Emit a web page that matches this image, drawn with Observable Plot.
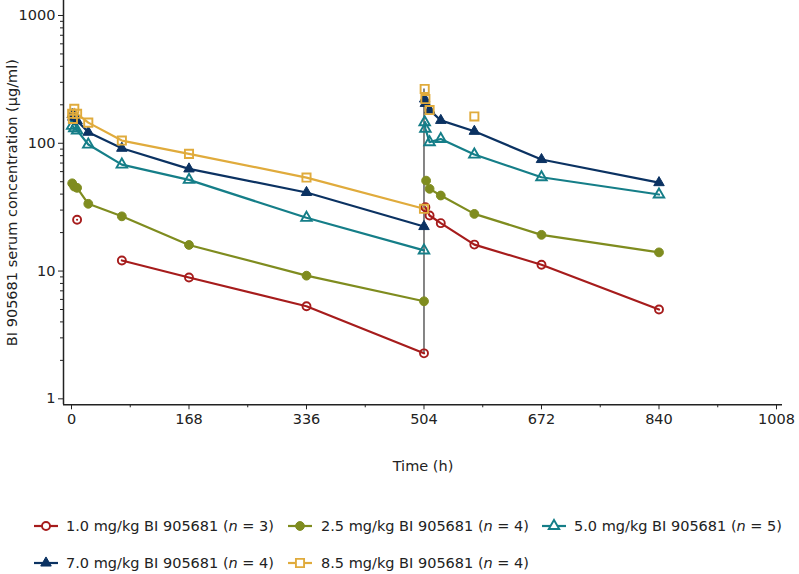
<!DOCTYPE html>
<html><head><meta charset="utf-8">
<script src="https://cdn.jsdelivr.net/npm/d3@7"></script>
<script src="https://cdn.jsdelivr.net/npm/@observablehq/plot@0.6"></script>
<style>
body{margin:0;background:#fff;font-family:"DejaVu Sans",sans-serif;}
#chart{width:799px;height:574px;position:relative;overflow:hidden;}
svg{display:block;}
</style></head><body><div id="chart"></div>
<script>
// ---- data ----
const groupLabels = ["1.0 mg/kg BI 905681", "2.5 mg/kg BI 905681", "5.0 mg/kg BI 905681", "7.0 mg/kg BI 905681", "8.5 mg/kg BI 905681"];
const groupN = [3, 4, 5, 4, 4];
const groupColors = ["#a61c1c", "#7f8c1f", "#157e88", "#0b3262", "#e0ab3c"];
const groupSymbols = ["circle", "circle", "triangle", "triangle", "square"];
const groupFilled = [false, true, false, true, false];

// first dose (h)
const timesRed1 = [8, 24, 72, 168, 336, 504];
const concRed1 = [25.2, null, 12.1, 8.9, 5.3, 2.27];
const timesOlive1 = [1, 4, 8, 24, 72, 168, 336, 504];
const concOlive1 = [48.6, 45.8, 44.8, 33.6, 26.8, 16.0, 9.2, 5.8];
const timesTeal1 = [1, 4, 8, 24, 72, 168, 336, 504];
const concTeal1 = [137, 131, 126, 97.7, 68.1, 51.7, 26.1, 14.5];
const timesNavy1 = [1, 2, 4, 8, 24, 72, 168, 336, 504];
const concNavy1 = [168, 160, 165, 150, 122, 91.4, 63, 41.2, 22.3];
const timesYellow1 = [1, 2, 4, 8, 24, 72, 168, 336, 504];
const concYellow1 = [170, 155, 186, 170, 145, 105, 82.6, 53.9, 30.7];

// second dose (h)
const timesRed2 = [506, 512, 528, 576, 672, 840];
const concRed2 = [31.6, 27.2, 23.7, 16.1, 11.2, 5.0];
const timesOlive2 = [507, 512, 528, 576, 672, 840];
const concOlive2 = [51, 44, 39, 28, 19.2, 14.0];
const timesTeal2 = [505, 506, 512, 528, 576, 672, 840];
const concTeal2 = [146, 130, 102, 108, 81.6, 54.2, 39.7];
const timesNavy2 = [505, 506, 512, 528, 576, 672, 840];
const concNavy2 = [222, 205, 182, 151, 124, 74.6, 49.2];
const timesYellow2 = [505, 506, 512, 576];
const concYellow2 = [266, 222, 182, 162];
const linkedDose2 = [true, true, true, true, false];

const doseTime = 504;
const xTicks = [0, 168, 336, 504, 672, 840, 1008];
const xMinorTicks = [84, 252, 420, 588, 756, 924];
const yTicks = [1, 10, 100, 1000];
const yMinorTicks = [2,3,4,5,6,7,8,9,20,30,40,50,60,70,80,90,200,300,400,500,600,700,800,900];
const xTitle = "Time (h)";
const yTitle = "BI 905681 serum concentration (µg/ml)";

// ---- build rows ----
const series = [
  [timesRed1, concRed1, timesRed2, concRed2],
  [timesOlive1, concOlive1, timesOlive2, concOlive2],
  [timesTeal1, concTeal1, timesTeal2, concTeal2],
  [timesNavy1, concNavy1, timesNavy2, concNavy2],
  [timesYellow1, concYellow1, timesYellow2, concYellow2]
];
const toRows = (ts, cs) => ts.map((t, k) => ({t, c: cs[k]}));

const xDomain = [-11.44, 1016.6];
const yDomain = [0.898, 1310];

const marks = [
  Plot.axisX({ticks: xTicks, tickSize: 5, tickPadding: 4, tickFormat: d => String(d), label: null, stroke: "#222", fill: "#222"}),
  Plot.axisX({ticks: xMinorTicks, tickSize: 3, fill: "none", label: null, stroke: "#222"}),
  Plot.axisY({ticks: yTicks, tickSize: 5, tickPadding: 3, tickFormat: d => String(d), label: null, stroke: "#222", fill: "#222"}),
  Plot.axisY({ticks: yMinorTicks, tickSize: 3, fill: "none", label: null, stroke: "#222"}),
  Plot.ruleY([yDomain[0]], {stroke: "#222", strokeWidth: 1.5}),
  Plot.ruleX([xDomain[0]], {stroke: "#222", strokeWidth: 1.5}),
  Plot.ruleX([doseTime], {
    y1: d3.min(series, s => s[1][s[1].length - 1]),
    y2: d3.max(series, s => s[3][0]),
    stroke: "#444", strokeWidth: 1.3
  }),
  Plot.text([xTitle], {frameAnchor: "bottom", textAnchor: "middle", lineAnchor: "middle", dy: 62, fontSize: 14.5, fill: "#222"}),
  Plot.text([yTitle], {frameAnchor: "left", textAnchor: "middle", lineAnchor: "middle", dx: -51, rotate: -90, fontSize: 14.5, fill: "#222"})
];

series.forEach((s, i) => {
  const color = groupColors[i];
  const r1 = toRows(s[0], s[1]);
  const r2 = toRows(s[2], s[3]);
  marks.push(Plot.line(r1, {x: "t", y: "c", stroke: color, strokeWidth: 2.2}));
  if (linkedDose2[i]) marks.push(Plot.line(r2, {x: "t", y: "c", stroke: color, strokeWidth: 2.2}));
});
series.forEach((s, i) => {
  const color = groupColors[i];
  const rows = toRows(s[0], s[1]).concat(toRows(s[2], s[3])).filter(d => d.c != null);
  const sym = groupSymbols[i];
  const r = sym === "circle" ? (groupFilled[i] ? 4.4 : 4) : sym === "square" ? 4.6 : 3.9;
  marks.push(Plot.dot(rows, {
    x: "t", y: "c", symbol: sym, r,
    stroke: color, strokeWidth: groupFilled[i] ? 1 : 1.9,
    fill: groupFilled[i] ? color : "white", fillOpacity: groupFilled[i] ? 1 : 0
  }));
});

const chart = Plot.plot({
  width: 799, height: 480,
  marginLeft: 63, marginRight: 17, marginTop: 0, marginBottom: 75.7,
  x: {domain: xDomain},
  y: {type: "log", domain: yDomain},
  style: {fontFamily: "DejaVu Sans", fontSize: "14.5px", color: "#222", background: "white", overflow: "visible"},
  marks
});
document.getElementById("chart").appendChild(chart);

// ---- legend ----
const colX = [46, 300, 554];
const textX = [66, 321, 574];
const rowY = [46, 83];
const leg = d3.select("#chart").append("svg").attr("width", 799).attr("height", 94)
  .style("font-family", "DejaVu Sans").style("font-size", "14.5px");
groupLabels.forEach((lab, i) => {
  const col = i % 3, row = Math.floor(i / 3);
  const g = leg.append("g").attr("transform", `translate(${colX[col]},${rowY[row]})`);
  const color = groupColors[i];
  g.append("line").attr("x1", -12).attr("x2", 12).attr("y1", 0).attr("y2", 0)
    .attr("stroke", color).attr("stroke-width", 2.2);
  const sym = groupSymbols[i];
  const r = sym === "circle" ? (groupFilled[i] ? 4.4 : 4) : sym === "square" ? 4.6 : 3.9;
  const type = sym === "circle" ? d3.symbolCircle : sym === "square" ? d3.symbolSquare : d3.symbolTriangle;
  g.append("path").attr("d", d3.symbol(type, Math.PI * r * r)())
    .attr("fill", groupFilled[i] ? color : "white")
    .attr("stroke", color).attr("stroke-width", groupFilled[i] ? 1 : 1.9);
  const t = leg.append("text").attr("x", textX[col]).attr("y", rowY[row]).attr("dy", "0.35em").attr("fill", "#222");
  t.append("tspan").text(lab + " (");
  t.append("tspan").attr("font-style", "italic").text("n");
  t.append("tspan").text(" = " + groupN[i] + ")");
});
</script></body></html>
